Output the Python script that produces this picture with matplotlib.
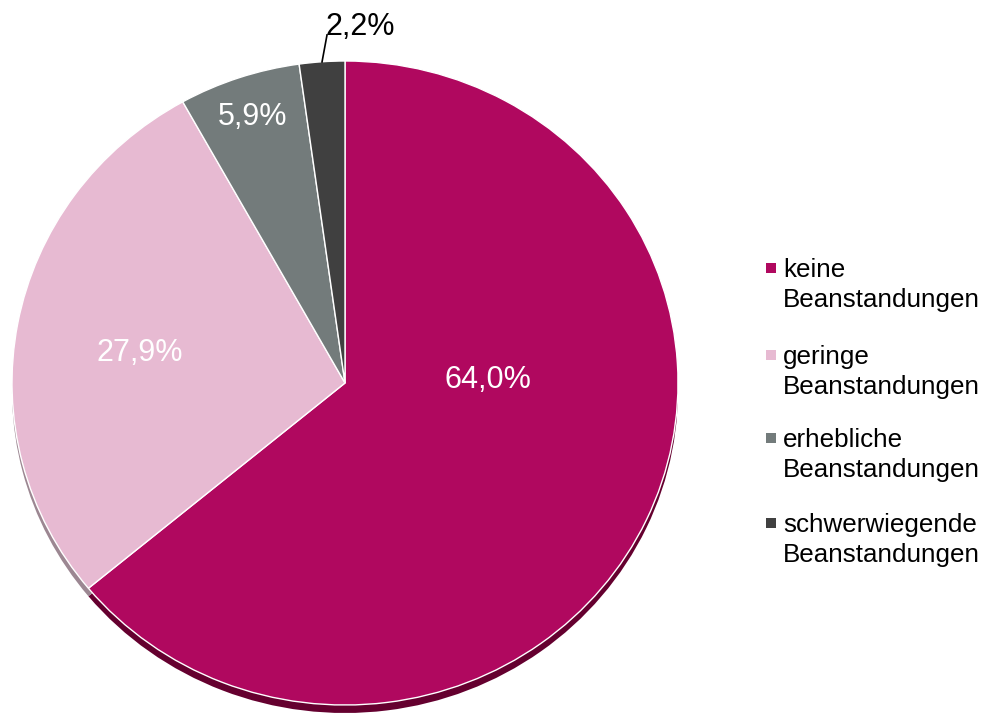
import matplotlib
matplotlib.use("Agg")
import matplotlib.pyplot as plt
from matplotlib.patches import Rectangle

# Data
categories = ["keine\nBeanstandungen", "geringe\nBeanstandungen",
              "erhebliche\nBeanstandungen", "schwerwiegende\nBeanstandungen"]
shares = [64.0, 27.9, 5.9, 2.2]

# Styles
top_colors = ["#B0085F", "#E7BAD2", "#737B7B", "#404040"]
side_colors = ["#65002F", "#9C8792", "#454B4B", "#262626"]
text_colors = ["white", "white", "white", "black"]
label_pos = [(0.43, 0.01), (-0.616, 0.093), (-0.279, 0.826), (0.045, 1.105)]

plt.rcParams["font.family"] = ["Liberation Sans", "DejaVu Sans"]

W, H = 985, 718
fig = plt.figure(figsize=(W / 100, H / 100), dpi=100)
ax = fig.add_axes([0, 0, 1, 1])

# pixel geometry of the pie ellipse
cx, cy = 345, 383          # centre in pixels (from top)
rx, ry = 333, 322          # radii in pixels
depth = 8 / ry             # thickness of the disc in data units

# side (depth) of the disc
ax.pie(shares, colors=side_colors, startangle=90, counterclock=False,
       center=(0, -depth), radius=1.0,
       wedgeprops=dict(edgecolor="none", linewidth=0))
# top surface
ax.pie(shares, colors=top_colors, startangle=90, counterclock=False,
       center=(0, 0), radius=1.0,
       wedgeprops=dict(edgecolor="white", linewidth=1.0))

ax.set_aspect("auto")
ax.set_xlim(-cx / rx, (W - cx) / rx)
ax.set_ylim(-(H - cy) / ry, cy / ry)
ax.axis("off")

# value labels
for val, (lx, ly), tc in zip(shares, label_pos, text_colors):
    txt = f"{val:.1f}%".replace(".", ",")
    ax.text(lx, ly, txt, ha="center", va="center", fontsize=22, color=tc)

# leader line for the smallest slice
ax.plot([-0.069, -0.054], [0.997, 1.081], color="black", lw=1.2)

# legend drawn in pixel space
entry_y = [268, 355, 438, 523]
for cat, col, y in zip(categories, top_colors, entry_y):
    first, second = cat.split("\n")
    fig.patches.append(Rectangle(((766) / W, 1 - (y + 5) / H), 10 / W, 10 / H,
                                 transform=fig.transFigure, facecolor=col,
                                 edgecolor="none"))
    fig.text(783 / W, 1 - (y + 9) / H, first, fontsize=18.7, color="black",
             ha="left", va="baseline")
    fig.text(783 / W, 1 - (y + 39) / H, second, fontsize=18.7, color="black",
             ha="left", va="baseline")

fig.savefig("out.png", dpi=100, facecolor="white")
